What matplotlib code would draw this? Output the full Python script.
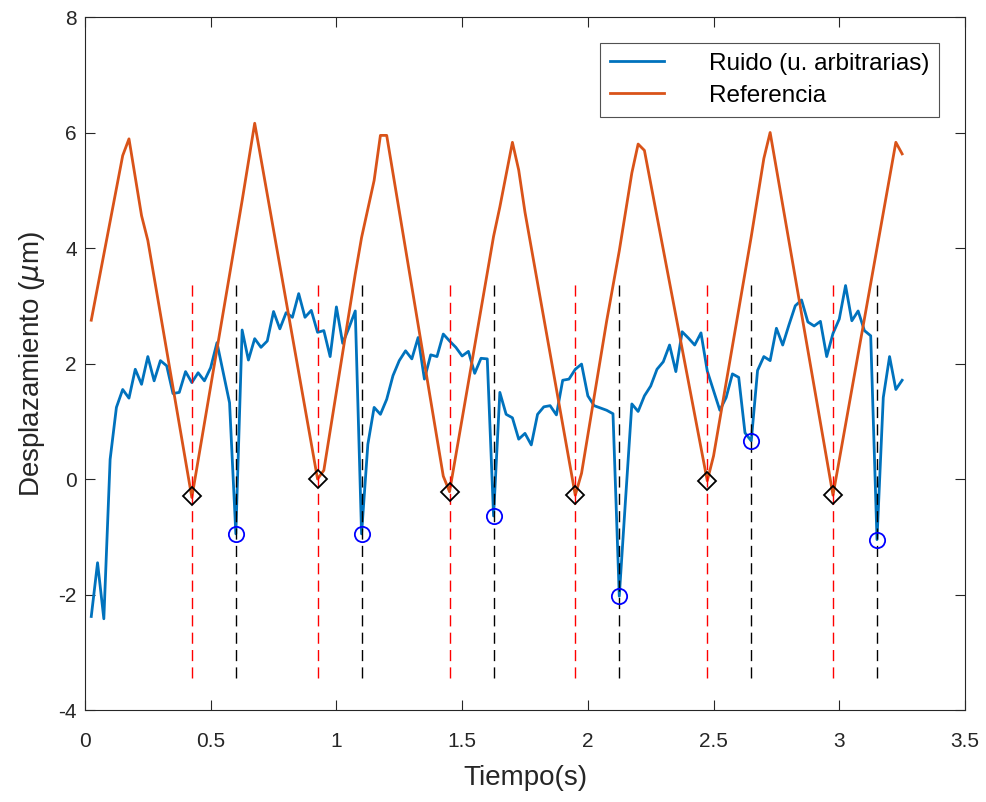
import numpy as np
import matplotlib
matplotlib.use("Agg")
import matplotlib.pyplot as plt
from matplotlib.ticker import FuncFormatter

plt.rcParams["font.family"] = ["Liberation Sans", "DejaVu Sans"]
plt.rcParams["axes.unicode_minus"] = False

# muestreo: dt = 0.025 s, k = 1..130
dt = 0.025
k = np.arange(1, 131)
t = k * dt

ruido = [
    -2.38, -1.45, -2.42, 0.34, 1.24, 1.55, 1.40, 1.90, 1.64, 2.12,
    1.70, 2.05, 1.96, 1.48, 1.50, 1.86, 1.67, 1.84, 1.70, 1.93,
    2.36, 1.84, 1.32, -0.95, 2.58, 2.06, 2.43, 2.28, 2.39, 2.90,
    2.60, 2.88, 2.80, 3.21, 2.80, 2.92, 2.54, 2.57, 2.12, 2.98,
    2.35, 2.62, 2.91, -0.95, 0.60, 1.24, 1.12, 1.38, 1.79, 2.05,
    2.22, 2.08, 2.45, 1.73, 2.15, 2.12, 2.51, 2.39, 2.28, 2.13,
    2.21, 1.83, 2.09, 2.08, -0.64, 1.50, 1.12, 1.06, 0.69, 0.79,
    0.59, 1.12, 1.25, 1.27, 1.11, 1.71, 1.73, 1.90, 1.99, 1.44,
    1.27, 1.23, 1.19, 1.13, -2.03, -0.35, 1.30, 1.17, 1.44, 1.61,
    1.90, 2.03, 2.32, 1.86, 2.55, 2.44, 2.32, 2.53, 1.87, 1.53,
    1.19, 1.41, 1.82, 1.76, 0.80, 0.66, 1.88, 2.12, 2.05, 2.61,
    2.32, 2.67, 3.00, 3.10, 2.72, 2.65, 2.73, 2.12, 2.52, 2.77,
    3.35, 2.74, 2.91, 2.57, 2.48, -1.05, 1.41, 2.12, 1.55, 1.71,
]

# referencia: vertices leidos (indice de muestra, valor)
ref_k = [1, 6, 7, 9, 10, 17, 25, 27, 37, 38, 43, 44, 46, 47, 48, 57, 58,
         65, 66, 68, 69, 70, 78, 79, 83, 85, 87, 88, 89, 99, 100, 106, 108,
         109, 119, 129, 130]
ref_val = [2.75, 5.60, 5.89, 4.56, 4.13, -0.32, 4.82, 6.16, 0.00, 0.15,
           3.55, 4.18, 5.17, 5.95, 5.95, 0.05, -0.22, 4.20, 4.71, 5.83,
           5.35, 4.62, -0.28, 0.10, 2.74, 3.95, 5.30, 5.80, 5.69, -0.03,
           0.40, 4.20, 5.55, 6.00, -0.28, 5.83, 5.63]

# minimos de referencia (rombos) y de ruido (circulos)
t_ref_min = [0.425, 0.925, 1.45, 1.95, 2.475, 2.975]
v_ref_min = [-0.30, 0.00, -0.22, -0.28, -0.03, -0.28]
t_ruido_min = [0.600, 1.100, 1.625, 2.125, 2.650, 3.150]
v_ruido_min = [-0.95, -0.95, -0.64, -2.03, 0.66, -1.05]

y_lo, y_hi = -3.45, 3.40

fig = plt.figure(figsize=(9.87, 8.02), dpi=100)
ax = fig.add_axes([0.0861, 0.1147, 0.8916, 0.8641])

blue = "#0072BD"
orange = "#D95319"
ax.plot(t, ruido, color=blue, lw=2.0, label="Ruido (u. arbitrarias)")
ax.plot(np.array(ref_k) * dt, ref_val, color=orange, lw=2.0, label="Referencia")

for tr in t_ref_min:
    ax.plot([tr, tr], [y_lo, y_hi], color="red", lw=1.0, dashes=(8, 4.5))
for tn in t_ruido_min:
    ax.plot([tn, tn], [y_lo, y_hi], color="black", lw=1.0, dashes=(8, 4.5))

ax.plot(t_ref_min, v_ref_min, "D", ms=9, mfc="none", mec="black", mew=1.3)
ax.plot(t_ruido_min, v_ruido_min, "o", ms=11, mfc="none", mec="blue", mew=1.3)

ax.set_xlim(0, 3.5)
ax.set_ylim(-4, 8)
ax.set_xticks(np.arange(0, 3.51, 0.5))
ax.set_yticks(np.arange(-4, 8.1, 2))
ax.xaxis.set_major_formatter(FuncFormatter(lambda v, p: f"{v:g}"))
ax.yaxis.set_major_formatter(FuncFormatter(lambda v, p: f"{v:g}"))
ax.tick_params(direction="in", top=True, right=True, labelsize=15,
               colors="#262626", length=7, width=0.8)
ax.tick_params(axis="x", pad=16)
ax.tick_params(axis="y", pad=6)
for s in ax.spines.values():
    s.set_color("#262626")
    s.set_linewidth(0.8)

ax.set_xlabel("Tiempo(s)", fontsize=20, color="#262626", labelpad=10)
ax.set_ylabel("Desplazamiento ($\\mu$m)", fontsize=20, color="#262626", labelpad=8)

leg = ax.legend(loc="upper right", fontsize=17.5, frameon=True, fancybox=False,
                edgecolor="#262626", handlelength=2.2, handletextpad=1.85,
                borderaxespad=1.05, borderpad=0.43, labelspacing=0.41)
leg.get_frame().set_linewidth(0.8)

fig.savefig("out.png", dpi=100)
